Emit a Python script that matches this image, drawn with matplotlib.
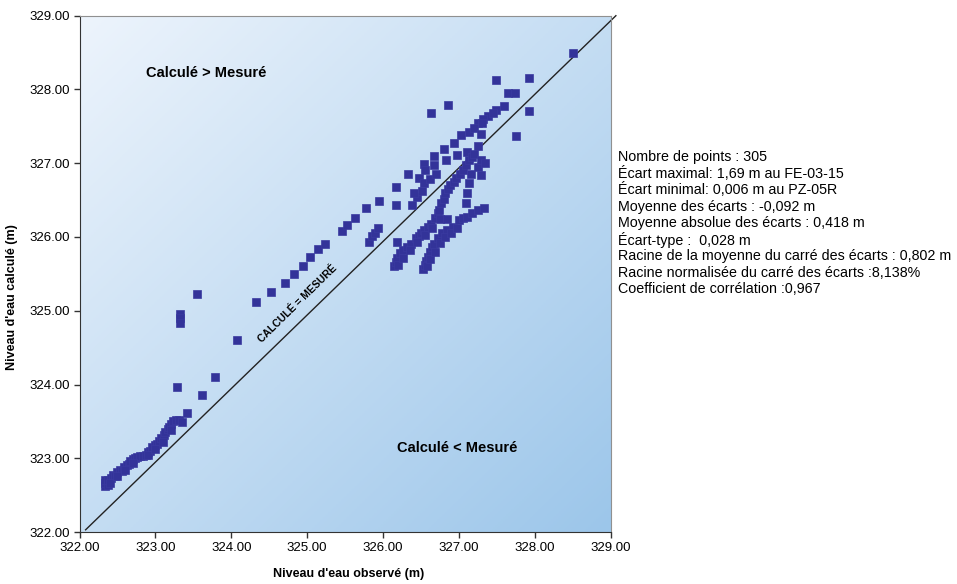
import matplotlib
matplotlib.use('Agg')
import matplotlib.pyplot as plt
import numpy as np
from matplotlib.colors import LinearSegmentedColormap

plt.rcParams['font.family'] = ['Liberation Sans', 'DejaVu Sans']

obs_low = [322.33, 322.33, 322.34, 322.37, 322.38, 322.41, 322.44, 322.47, 322.49, 322.53,
           322.56, 322.58, 322.62, 322.65, 322.67, 322.71, 322.73, 322.76, 322.80, 322.84,
           322.87, 322.90, 322.93, 322.96, 323.00, 323.02, 323.05, 323.08, 323.11, 323.13,
           323.16, 323.18, 323.20, 323.23, 323.27, 323.31, 323.35, 323.42,
           322.40, 322.50, 322.60, 322.70, 322.90, 323.00, 323.10, 323.20]
calc_low = [322.62, 322.66, 322.70, 322.64, 322.70, 322.73, 322.77, 322.76, 322.81, 322.84,
            322.83, 322.88, 322.91, 322.92, 322.96, 322.99, 323.01, 323.02, 323.03, 323.03,
            323.04, 323.08, 323.10, 323.15, 323.18, 323.20, 323.24, 323.28, 323.31, 323.36,
            323.39, 323.43, 323.46, 323.50, 323.52, 323.52, 323.49, 323.61,
            322.66, 322.76, 322.84, 322.93, 323.05, 323.12, 323.22, 323.38]

obs_mid = [323.29, 323.62, 323.79, 323.33, 323.33, 323.33, 323.55, 324.08, 324.32, 324.53,
           324.71, 324.83, 324.95, 325.04, 325.15, 325.23, 325.46, 325.53, 325.63, 325.78,
           325.95, 326.17, 326.17, 326.19, 325.82, 325.86, 325.90, 325.94]
calc_mid = [323.97, 323.86, 324.10, 324.96, 324.90, 324.83, 325.23, 324.60, 325.12, 325.25,
            325.37, 325.50, 325.61, 325.73, 325.84, 325.90, 326.08, 326.16, 326.26, 326.39,
            326.49, 326.68, 326.43, 325.93, 325.93, 326.02, 326.06, 326.12]

obs_high = [326.63, 326.86, 327.49, 327.93, 327.65, 327.74, 327.93, 327.75, 328.51,
            326.33, 326.47, 326.54, 326.67, 326.80, 326.93, 327.03, 327.13, 327.25, 327.38,
            327.49, 327.59, 327.45, 327.32, 327.20,
            326.56, 326.67, 326.83, 326.98, 327.11,
            326.38, 326.45, 326.52, 326.41, 326.54, 326.62, 326.70]
calc_high = [327.68, 327.79, 328.13, 328.16, 327.95, 327.95, 327.71, 327.37, 328.49,
             326.85, 326.80, 326.99, 327.10, 327.19, 327.28, 327.38, 327.42, 327.54, 327.64,
             327.72, 327.77, 327.68, 327.60, 327.48,
             326.91, 326.97, 327.04, 327.11, 327.15,
             326.43, 326.54, 326.63, 326.59, 326.73, 326.78, 326.85]

obs_band_a = [326.15, 326.17, 326.19, 326.23, 326.27, 326.32, 326.37, 326.43, 326.48, 326.50,
              326.54, 326.59, 326.63, 326.68, 326.72, 326.74, 326.76, 326.80, 326.82, 326.86,
              326.89, 326.93, 326.96, 327.01, 327.05, 327.09, 327.13, 327.17, 327.20, 327.25,
              327.29, 327.31,
              326.20, 326.26, 326.35, 326.45, 326.55, 326.65, 326.75, 326.85]
calc_band_a = [325.60, 325.66, 325.72, 325.78, 325.82, 325.86, 325.91, 325.98, 326.02, 326.05,
               326.09, 326.13, 326.18, 326.26, 326.32, 326.37, 326.46, 326.52, 326.59, 326.65,
               326.70, 326.75, 326.80, 326.86, 326.91, 326.97, 327.04, 327.09, 327.13, 327.24,
               327.40, 327.54,
               325.62, 325.72, 325.82, 325.93, 326.03, 326.12, 326.25, 326.25]

obs_band_b = [326.53, 326.55, 326.57, 326.59, 326.62, 326.65, 326.67, 326.72, 326.78, 326.85,
              326.92, 327.00, 327.06, 327.11, 327.18, 327.25, 327.33, 327.09, 327.11, 327.13,
              327.16, 327.25, 327.29, 327.29, 327.35,
              326.58, 326.62, 326.68, 326.75, 326.82, 326.90, 326.98]
calc_band_b = [325.56, 325.62, 325.68, 325.73, 325.79, 325.86, 325.91, 325.98, 326.05, 326.10,
               326.14, 326.23, 326.26, 326.27, 326.32, 326.36, 326.39, 326.46, 326.59, 326.73,
               326.86, 326.95, 327.04, 326.84, 327.00,
               325.60, 325.70, 325.80, 325.92, 326.00, 326.06, 326.12]

obs = obs_low + obs_mid + obs_high + obs_band_a + obs_band_b
calc = calc_low + calc_mid + calc_high + calc_band_a + calc_band_b

ticks = [322, 323, 324, 325, 326, 327, 328, 329]

stats = [
    "Nombre de points : 305",
    "Écart maximal: 1,69 m au FE-03-15",
    "Écart minimal: 0,006 m au PZ-05R",
    "Moyenne des écarts : -0,092 m",
    "Moyenne absolue des écarts : 0,418 m",
    "Écart-type :  0,028 m",
    "Racine de la moyenne du carré des écarts : 0,802 m",
    "Racine normalisée du carré des écarts :8,138%",
    "Coefficient de corrélation :0,967",
]

fig = plt.figure(figsize=(9.57, 5.84), dpi=100)
ax = fig.add_axes([0.0831, 0.089, 0.5549, 0.8841])

# diagonal gradient background: light top-left, blue bottom-right
g = np.linspace(0, 1, 200)
gx, gy = np.meshgrid(g, g)
grad = (gx + gy) / 2
cmap = LinearSegmentedColormap.from_list('bg', ['#EDF4FC', '#9CC6EA'])
ax.imshow(grad, cmap=cmap, extent=[322, 329, 322, 329], aspect='auto',
          origin='upper', zorder=0)

ax.plot([322.08, 329.07], [322.03, 329.0], color='#222222', lw=1, zorder=2, clip_on=False)
ax.plot(obs, calc, 's', color='#333399', ms=6, mec='#3A3AA0', mew=0.5, zorder=3)

ax.set_xlim(322, 329)
ax.set_ylim(322, 329)
ax.set_xticks(ticks)
ax.set_yticks(ticks)
ax.set_xticklabels([f"{t:.2f}" for t in ticks], fontsize=9.5)
ax.set_yticklabels([f"{t:.2f}" for t in ticks], fontsize=9.5)
ax.tick_params(direction='out', length=4, width=1, color='#333333', pad=3)
for s in ['left', 'bottom']:
    ax.spines[s].set_color('#333333')
for s in ['top', 'right']:
    ax.spines[s].set_color('#909090')

ax.set_xlabel("Niveau d'eau observé (m)", fontsize=9, fontweight='bold')
ax.set_ylabel("Niveau d'eau calculé (m)", fontsize=9, fontweight='bold')
ax.xaxis.set_label_coords(0.506, -0.07)
ax.yaxis.set_label_coords(-0.116, 0.455)

ax.text(322.87, 328.22, "Calculé > Mesuré", fontsize=10.5, fontweight='bold',
        va='center', ha='left', zorder=4)
ax.text(326.18, 323.14, "Calculé < Mesuré", fontsize=10.5, fontweight='bold',
        va='center', ha='left', zorder=4)
ax.text(324.88, 325.1, "CALCULÉ = MESURÉ", fontsize=7.5, fontweight='bold',
        rotation=44.5, ha='center', va='center', zorder=4)

y0 = 1 - 157 / 584
for i, line in enumerate(stats):
    fig.text(618 / 957, y0 - i * 16.5 / 584, line, fontsize=10.3, va='center', ha='left')

fig.savefig('out.png', dpi=100)
plt.close(fig)
